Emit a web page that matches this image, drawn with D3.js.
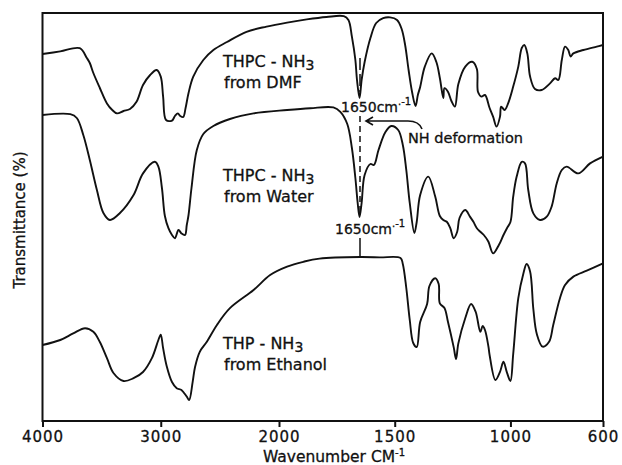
<!DOCTYPE html>
<html>
<head>
<meta charset="utf-8">
<script src="https://cdn.jsdelivr.net/npm/d3@7"></script>
<style>
  html, body { margin: 0; padding: 0; background: #fff; }
  #chart { width: 622px; height: 465px; }
  text { font-family: "DejaVu Sans", sans-serif; fill: #111; stroke: #111; stroke-width: 0.3px; }
</style>
</head>
<body>
<div id="chart"></div>
<script>
// IR spectra : THPC-NH3 (DMF, water) and THP-NH3 (ethanol)

// --- data (wavenumber cm-1 / transmittance, arbitrary %) ---
const dmfWn = [4000, 3850, 3685, 3625, 3600, 3570, 3515, 3455, 3410, 3370, 3315, 3260, 3205, 3150, 3090, 3035, 3000, 2980, 2955, 2905, 2880, 2855, 2835, 2810, 2790, 2765, 2725, 2640, 2555, 2440, 2275, 2105, 1965, 1880, 1795, 1720, 1700, 1685, 1670, 1663, 1652, 1643, 1630, 1605, 1580, 1550, 1520, 1490, 1470, 1455, 1440, 1425, 1410, 1400, 1390, 1370, 1340, 1320, 1305, 1290, 1285, 1270, 1255, 1240, 1225, 1195, 1165, 1145, 1140, 1125, 1110, 1090, 1075, 1060, 1045, 1040, 1025, 1010, 988, 966, 951, 940, 927, 915, 894, 865, 829, 807, 793, 778, 764, 750, 740, 728, 685, 627, 600];
const dmfT = [91.75, 92.4, 93.2, 90.75, 89.5, 87, 83.25, 79.4, 77.75, 76.9, 77.5, 78, 79.8, 84, 86.5, 87.75, 86.1, 81.1, 75.25, 75.1, 76.25, 76.9, 76.25, 76, 78.25, 82, 86.1, 90.25, 92.75, 94.75, 97.3, 98.6, 99.6, 100.4, 101, 101.2, 100.25, 96.1, 90.25, 85.25, 80.75, 85.25, 89.75, 95.75, 99.5, 100.7, 100.9, 100.25, 98, 94, 87.75, 82.25, 78.75, 81.5, 83.5, 88.6, 91.9, 89.75, 85.75, 80.75, 83.2, 82.3, 80, 78.6, 84.25, 88.6, 89.8, 88, 82.25, 81.1, 81.5, 78.25, 76.1, 73.6, 76.1, 78.6, 77.75, 79.4, 83.6, 88.6, 93.25, 94, 91.9, 86.1, 83, 82.75, 84.4, 85.7, 85.25, 90.25, 93.6, 92.75, 91.1, 91.9, 92.75, 93.6, 94];

const waterWn = [4000, 3765, 3710, 3655, 3600, 3540, 3485, 3430, 3345, 3230, 3150, 3050, 3020, 2990, 2965, 2935, 2905, 2880, 2850, 2825, 2795, 2780, 2765, 2740, 2695, 2640, 2555, 2415, 2215, 1965, 1865, 1765, 1735, 1705, 1685, 1670, 1660, 1652, 1643, 1630, 1605, 1590, 1570, 1540, 1515, 1485, 1465, 1450, 1435, 1415, 1405, 1390, 1355, 1325, 1305, 1290, 1275, 1260, 1245, 1230, 1220, 1195, 1175, 1160, 1145, 1130, 1115, 1095, 1075, 1050, 1030, 1015, 1000, 988, 973, 951, 937, 923, 901, 872, 843, 822, 800, 778, 757, 707, 656, 600];
const waterT = [76.5, 76.7, 75.75, 71.5, 65.25, 57.75, 52, 50.25, 52, 56.5, 61.9, 64.8, 63.6, 58.25, 51.25, 48.2, 46.5, 45.7, 47.75, 46.9, 46.5, 49, 51.5, 58.25, 67.75, 71.75, 73.75, 75.5, 76.9, 77.75, 78.2, 78.4, 77.3, 74.25, 68.25, 60.75, 54.5, 51, 54.5, 61.5, 64.25, 64, 67.75, 72.25, 73.75, 72.75, 69, 62.75, 54.5, 47, 49.75, 56.5, 61.1, 56.1, 51.25, 50.25, 49.8, 48.2, 45.7, 47.3, 50.75, 52.75, 51.1, 49.8, 48.2, 47.3, 46.5, 44.8, 41.9, 44, 46.5, 48.2, 49.75, 56.1, 61.1, 64.8, 64.4, 57.75, 51.9, 50.25, 51.1, 53.6, 59.4, 62.75, 63.6, 61.9, 64.4, 66.1];

const ethWn = [4000, 3850, 3740, 3640, 3570, 3515, 3455, 3400, 3315, 3230, 3150, 3075, 3020, 3000, 2980, 2950, 2905, 2865, 2825, 2780, 2760, 2730, 2710, 2670, 2610, 2525, 2415, 2215, 2075, 1965, 1895, 1825, 1650, 1565, 1475, 1465, 1450, 1435, 1420, 1405, 1390, 1360, 1350, 1325, 1310, 1305, 1285, 1270, 1245, 1235, 1225, 1195, 1170, 1150, 1130, 1120, 1110, 1095, 1090, 1065, 1045, 1030, 1015, 1000, 988, 966, 944, 930, 915, 901, 886, 861, 833, 815, 786, 764, 728, 670, 600];
const ethT = [19, 20.25, 21.9, 23.2, 22.3, 19.75, 15.7, 12, 10, 10.7, 12.25, 15.7, 20.25, 21.6, 18.2, 13.75, 9.75, 8.2, 7.75, 6.1, 5.25, 9.8, 13.5, 17.3, 19.8, 24, 28.2, 32.75, 36.5, 38.6, 39.8, 40.6, 41, 40.9, 40.75, 39.25, 33.25, 25.25, 19.5, 18.5, 24.75, 29.25, 33.75, 35.7, 34.25, 29.4, 28.25, 24.8, 18.4, 15.5, 19.4, 25.75, 29.25, 27.25, 22.3, 23.75, 22.75, 18.6, 16.5, 10.25, 12.3, 14.8, 12.1, 10, 16.75, 30.7, 36.9, 39.25, 37.4, 28, 21.75, 18.6, 19.8, 24, 30.7, 34, 36.1, 37.6, 39.4];

const tickValues = [4000, 3000, 2000, 1500, 1000, 600];
const markerWn = 1650;

const W = 622, H = 465;
const margin = { top: 13, right: 19, bottom: 44, left: 42.5 };
const x0 = margin.left, x1 = W - margin.right;
const y0 = margin.top, y1 = H - margin.bottom;

const svg = d3.select("#chart").append("svg")
  .attr("width", W).attr("height", H);

// grating change at 2000 cm-1 -> piecewise linear axis
const x = d3.scaleLinear()
  .domain([4000, 2000, 600])
  .range([x0, x0 + 236.5, x1]);
const y = d3.scaleLinear().domain([0, 102]).range([y1, y0]);

const line = d3.line()
  .x(d => x(d[0])).y(d => y(d[1]))
  .curve(d3.curveCatmullRom.alpha(0.5));

const series = [
  { wn: dmfWn, t: dmfT },
  { wn: waterWn, t: waterT },
  { wn: ethWn, t: ethT },
];

svg.append("g").selectAll("path")
  .data(series)
  .join("path")
  .attr("d", s => line(s.wn.map((w, i) => [w, s.t[i]])))
  .attr("fill", "none")
  .attr("stroke", "#111")
  .attr("stroke-width", 1.9)
  .attr("stroke-linejoin", "round");

// frame
svg.append("rect")
  .attr("x", x0).attr("y", y0)
  .attr("width", x1 - x0).attr("height", y1 - y0)
  .attr("fill", "none").attr("stroke", "#111").attr("stroke-width", 2);

// bottom axis
const axis = svg.append("g")
  .attr("transform", `translate(0,${y1})`)
  .call(d3.axisBottom(x).tickValues(tickValues).tickSize(6).tickPadding(4).tickFormat(d3.format("d")));
axis.select(".domain").remove();
axis.selectAll("line").attr("stroke", "#111").attr("stroke-width", 2);
axis.selectAll("text")
  .style("font-size", "15px")
  .style("letter-spacing", "1px")
  .attr("fill", "#111");

// axis titles
const xt = svg.append("text")
  .attr("x", 334).attr("y", 462)
  .attr("text-anchor", "middle")
  .style("font-size", "15.5px");
xt.append("tspan").text("Wavenumber  CM");
xt.append("tspan").attr("dy", -6).style("font-size", "10px").text("-1");

svg.append("text")
  .attr("transform", "translate(25,220) rotate(-90)")
  .attr("text-anchor", "middle")
  .style("font-size", "15px")
  .text("Transmittance (%)");

// curve labels
function label(xp, yp, sample, solvent) {
  const t = svg.append("text").attr("x", xp).attr("y", yp).style("font-size", "16px");
  t.append("tspan").text(sample + " - NH");
  t.append("tspan").attr("dy", 3).style("font-size", "14px").text("3");
  svg.append("text").attr("x", xp + 1).attr("y", yp + 21).style("font-size", "16px").text(solvent);
}
label(223, 67, "THPC", "from DMF");
label(223, 181, "THPC", "from Water");
label(223, 349, "THP", "from Ethanol");

// 1650 cm-1 markers
const xm = x(markerWn);
function cmLabel(xp, yp) {
  const t = svg.append("text").attr("x", xp).attr("y", yp).style("font-size", "14px");
  t.append("tspan").text("1650cm");
  t.append("tspan").attr("dy", -7).style("font-size", "10px").text(".-1");
}
cmLabel(341, 112);
cmLabel(335, 233.5);

svg.append("line")
  .attr("x1", xm).attr("x2", xm).attr("y1", 58).attr("y2", 92)
  .attr("stroke", "#111").attr("stroke-width", 1.5).attr("stroke-dasharray", "12,4");
svg.append("line")
  .attr("x1", xm).attr("x2", xm).attr("y1", 116).attr("y2", 214)
  .attr("stroke", "#111").attr("stroke-width", 1.5).attr("stroke-dasharray", "6,4");
svg.append("line")
  .attr("x1", xm).attr("x2", xm).attr("y1", 238).attr("y2", 257)
  .attr("stroke", "#111").attr("stroke-width", 1.5);

// NH deformation arrow
svg.append("path")
  .attr("d", "M422,129 Q419,121 408,121 L366,121 M373,117 L366,121 L373,125")
  .attr("fill", "none").attr("stroke", "#111").attr("stroke-width", 1.6);
svg.append("text")
  .attr("x", 408).attr("y", 142.5)
  .style("font-size", "14.5px")
  .text("NH deformation");
</script>
</body>
</html>
